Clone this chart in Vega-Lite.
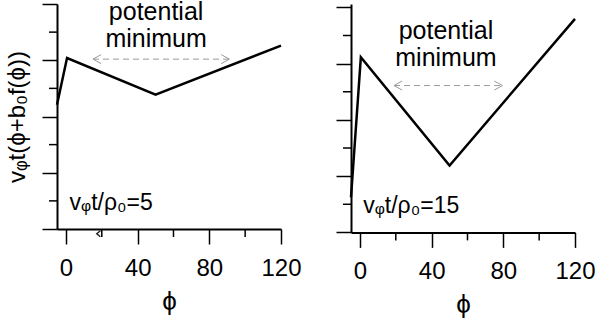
{
  "$schema": "https://vega.github.io/schema/vega-lite/v6.json",
  "padding": {"left": 5, "top": 0, "right": 0, "bottom": 0},
  "autosize": {"type": "pad"},
  "bounds": "flush",
  "spacing": 70,
  "background": "white",
  "config": {
    "view": {"stroke": null},
    "font": "Liberation Sans",
    "axis": {
      "grid": false,
      "domainColor": "black",
      "domainWidth": 2,
      "tickColor": "black",
      "tickWidth": 1.5,
      "tickSize": 15,
      "labelColor": "black",
      "titleColor": "black",
      "titleFontWeight": "normal",
      "labelFlush": false,
      "labelOverlap": false,
      "labelBound": false
    }
  },
  "datasets": {
    "curveA": [
      {"phi": -5, "v": 4.42},
      {"phi": 0.6, "v": 6.08},
      {"phi": 50, "v": 4.78},
      {"phi": 120, "v": 6.52}
    ],
    "curveB": [
      {"phi": -5, "v": 1.25},
      {"phi": 0.5, "v": 6.23},
      {"phi": 50, "v": 2.38},
      {"phi": 120, "v": 7.59}
    ],
    "minorX": [{"phi": 20, "v": 0}, {"phi": 60, "v": 0}, {"phi": 100, "v": 0}],
    "minorY": [{"phi": -5, "v": 1}, {"phi": -5, "v": 3}, {"phi": -5, "v": 5}, {"phi": -5, "v": 7}],
    "arrowA": [
      {"x1": 15.1, "x2": 91.2, "v": 6.04}
    ],
    "strayA": [
      {"phi": 17.2, "v": -0.17}
    ],
    "arrowB": [
      {"x1": 19, "x2": 79.5, "v": 5.22}
    ],
    "textA": [
      {"phi": 50.3, "v": 7.42, "label": "potential\nminimum"},
      {"phi": 2, "v": 0.69, "label": "vᵩt/ρ₀=5"}
    ],
    "textB": [
      {"phi": 48, "v": 6.86, "label": "potential\nminimum"},
      {"phi": 1.8, "v": 0.69, "label": "vᵩt/ρ₀=15"}
    ]
  },
  "hconcat": [
    {
      "width": 224,
      "height": 225,
      "layer": [
        {
          "data": {"name": "curveA"},
          "mark": {"type": "line", "color": "black", "strokeWidth": 2.5, "clip": false},
          "encoding": {
            "x": {
              "field": "phi", "type": "quantitative",
              "scale": {"domain": [-5, 120], "nice": false, "zero": false},
              "axis": {
                "values": [0, 40, 80, 120],
                "labelFontSize": 24,
                "labelBaseline": "alphabetic",
                "labelPadding": 31,
                "title": "ϕ",
                "titleFontSize": 26,
                "titlePadding": 8
              }
            },
            "y": {
              "field": "v", "type": "quantitative",
              "scale": {"domain": [0, 8], "nice": false, "zero": false},
              "axis": {
                "values": [0, 2, 4, 6, 8],
                "labels": false,
                "title": "vᵩt(ϕ+b₀f(ϕ))",
                "titleFontSize": 24,
                "titlePadding": 12
              }
            }
          }
        },
        {
          "data": {"name": "minorX"},
          "mark": {"type": "tick", "orient": "vertical", "size": 8, "thickness": 1.5, "yOffset": 4, "color": "black", "opacity": 1},
          "encoding": {
            "x": {"field": "phi", "type": "quantitative"},
            "y": {"field": "v", "type": "quantitative"}
          }
        },
        {
          "data": {"name": "minorY"},
          "mark": {"type": "tick", "orient": "horizontal", "size": 8, "thickness": 1.5, "xOffset": -4, "color": "black", "opacity": 1},
          "encoding": {
            "x": {"field": "phi", "type": "quantitative"},
            "y": {"field": "v", "type": "quantitative"}
          }
        },
        {
          "data": {"name": "arrowA"},
          "mark": {"type": "rule", "color": "#999999", "strokeWidth": 1, "strokeDash": [6, 4]},
          "encoding": {
            "x": {"field": "x1", "type": "quantitative"},
            "x2": {"field": "x2"},
            "y": {"field": "v", "type": "quantitative"}
          }
        },
        {
          "data": {"name": "arrowA"},
          "mark": {"type": "point", "shape": "M1.8,-1L0,0L1.8,1", "filled": false, "color": "#999999", "strokeWidth": 1, "size": 81, "opacity": 1},
          "encoding": {
            "x": {"field": "x1", "type": "quantitative"},
            "y": {"field": "v", "type": "quantitative"}
          }
        },
        {
          "data": {"name": "arrowA"},
          "mark": {"type": "point", "shape": "M-1.8,-1L0,0L-1.8,1", "filled": false, "color": "#999999", "strokeWidth": 1, "size": 81, "opacity": 1},
          "encoding": {
            "x": {"field": "x2", "type": "quantitative"},
            "y": {"field": "v", "type": "quantitative"}
          }
        },
        {
          "data": {"name": "strayA"},
          "mark": {"type": "point", "shape": "M1.2,-1L0,0L1.2,1", "filled": false, "color": "#222222", "strokeWidth": 1.5, "size": 36, "opacity": 1, "clip": false},
          "encoding": {
            "x": {"field": "phi", "type": "quantitative"},
            "y": {"field": "v", "type": "quantitative"}
          }
        },
        {
          "data": {"name": "textA"},
          "mark": {"type": "text", "align": {"expr": "datum.phi > 10 ? 'center' : 'left'"}, "baseline": "alphabetic", "fontSize": {"expr": "datum.phi > 10 ? 25 : 23"}, "lineHeight": 27, "lineBreak": "\n", "color": "black"},
          "encoding": {
            "x": {"field": "phi", "type": "quantitative"},
            "y": {"field": "v", "type": "quantitative"},
            "text": {"field": "label"}
          }
        }
      ]
    },
    {
      "width": 224,
      "height": 228.4,
      "layer": [
        {
          "data": {"name": "curveB"},
          "mark": {"type": "line", "color": "black", "strokeWidth": 2.5, "clip": false},
          "encoding": {
            "x": {
              "field": "phi", "type": "quantitative",
              "scale": {"domain": [-5, 120], "nice": false, "zero": false},
              "axis": {
                "values": [0, 40, 80, 120],
                "labelFontSize": 24,
                "labelBaseline": "alphabetic",
                "labelPadding": 31,
                "title": "ϕ",
                "titleFontSize": 26,
                "titlePadding": 8
              }
            },
            "y": {
              "field": "v", "type": "quantitative",
              "scale": {"domain": [0, 8.12], "nice": false, "zero": false},
              "axis": {
                "values": [0, 2, 4, 6, 8],
                "labels": false,
                "title": null
              }
            }
          }
        },
        {
          "data": {"name": "minorX"},
          "mark": {"type": "tick", "orient": "vertical", "size": 8, "thickness": 1.5, "yOffset": 4, "color": "black", "opacity": 1},
          "encoding": {
            "x": {"field": "phi", "type": "quantitative"},
            "y": {"field": "v", "type": "quantitative"}
          }
        },
        {
          "data": {"name": "minorY"},
          "mark": {"type": "tick", "orient": "horizontal", "size": 8, "thickness": 1.5, "xOffset": -4, "color": "black", "opacity": 1},
          "encoding": {
            "x": {"field": "phi", "type": "quantitative"},
            "y": {"field": "v", "type": "quantitative"}
          }
        },
        {
          "data": {"name": "arrowB"},
          "mark": {"type": "rule", "color": "#999999", "strokeWidth": 1, "strokeDash": [6, 4]},
          "encoding": {
            "x": {"field": "x1", "type": "quantitative"},
            "x2": {"field": "x2"},
            "y": {"field": "v", "type": "quantitative"}
          }
        },
        {
          "data": {"name": "arrowB"},
          "mark": {"type": "point", "shape": "M1.8,-1L0,0L1.8,1", "filled": false, "color": "#999999", "strokeWidth": 1, "size": 81, "opacity": 1},
          "encoding": {
            "x": {"field": "x1", "type": "quantitative"},
            "y": {"field": "v", "type": "quantitative"}
          }
        },
        {
          "data": {"name": "arrowB"},
          "mark": {"type": "point", "shape": "M-1.8,-1L0,0L-1.8,1", "filled": false, "color": "#999999", "strokeWidth": 1, "size": 81, "opacity": 1},
          "encoding": {
            "x": {"field": "x2", "type": "quantitative"},
            "y": {"field": "v", "type": "quantitative"}
          }
        },
        {
          "data": {"name": "textB"},
          "mark": {"type": "text", "align": {"expr": "datum.phi > 10 ? 'center' : 'left'"}, "baseline": "alphabetic", "fontSize": {"expr": "datum.phi > 10 ? 25 : 23"}, "lineHeight": 27, "lineBreak": "\n", "color": "black"},
          "encoding": {
            "x": {"field": "phi", "type": "quantitative"},
            "y": {"field": "v", "type": "quantitative"},
            "text": {"field": "label"}
          }
        }
      ]
    }
  ]
}
